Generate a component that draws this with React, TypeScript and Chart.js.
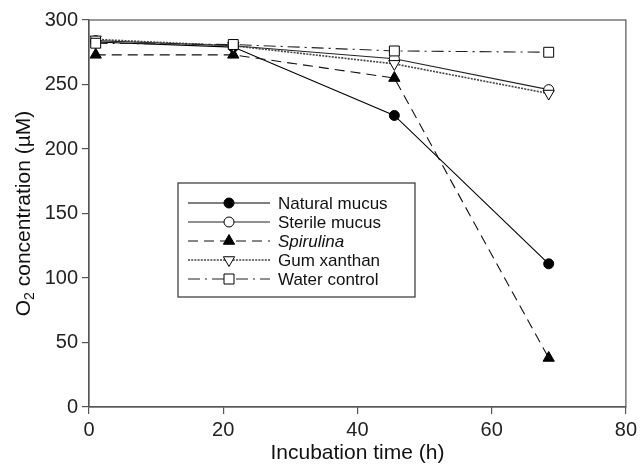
import React, { useEffect, useRef } from "react";
import { Chart, registerables } from "chart.js";

Chart.register(...registerables);

const timeHours = [1, 21.5, 45.5, 68.5];
const naturalMucus = [283, 279, 226, 111];
const sterileMucus = [284, 280, 270, 246];
const spirulina = [273, 273, 255, 38];
const gumXanthan = [285, 280, 266, 243];
const waterControl = [282, 281, 276, 275];

const seriesNames = ["Natural mucus", "Sterile mucus", "Spirulina", "Gum xanthan", "Water control"];
const xTicks = [0, 20, 40, 60, 80];
const yTicks = [0, 50, 100, 150, 200, 250, 300];

const FONT = "'Liberation Sans', Arial, Helvetica, sans-serif";

function toPoints(ys: number[]) {
  return ys.map((y, i) => ({ x: timeHours[i], y }));
}

type Marker = "circleFill" | "circleOpen" | "triFill" | "triDownOpen" | "squareOpen";

function drawMarker(ctx: CanvasRenderingContext2D, m: Marker, x: number, y: number) {
  ctx.save();
  ctx.setLineDash([]);
  ctx.lineWidth = 1;
  ctx.strokeStyle = "#000";
  ctx.beginPath();
  if (m === "circleFill" || m === "circleOpen") {
    ctx.arc(x, y, 5, 0, Math.PI * 2);
    ctx.fillStyle = m === "circleFill" ? "#000" : "#fff";
  } else if (m === "triFill" || m === "triDownOpen") {
    const r = 6.5;
    const s = m === "triFill" ? 1 : -1;
    ctx.moveTo(x, y - s * r);
    ctx.lineTo(x + r * 0.866, y + s * r * 0.5);
    ctx.lineTo(x - r * 0.866, y + s * r * 0.5);
    ctx.closePath();
    ctx.fillStyle = m === "triFill" ? "#000" : "#fff";
  } else {
    ctx.rect(x - 5, y - 5, 10, 10);
    ctx.fillStyle = "#fff";
  }
  ctx.fill();
  ctx.stroke();
  ctx.restore();
}

const markers: Marker[] = ["circleFill", "circleOpen", "triFill", "triDownOpen", "squareOpen"];
const dashes: number[][] = [[], [], [10, 6], [2, 1.2], [12, 5, 2, 5]];
const lineColors = ["#000", "#222", "#111", "#444", "#222"];
const lineWidths = [1.1, 1.1, 1.1, 1.6, 1.1];

const framePlugin = {
  id: "frameAndExtras",
  afterDatasetsDraw(chart: any) {
    const ctx: CanvasRenderingContext2D = chart.ctx;
    const a = chart.chartArea;
    ctx.save();
    ctx.strokeStyle = "#555";
    ctx.lineWidth = 1.2;
    ctx.strokeRect(a.left, a.top, a.right - a.left, a.bottom - a.top);

    // legend
    const lx = 178, ly = 183, lw = 237, lh = 114;
    ctx.strokeStyle = "#333";
    ctx.lineWidth = 1.2;
    ctx.fillStyle = "#fff";
    ctx.fillRect(lx, ly, lw, lh);
    ctx.strokeRect(lx, ly, lw, lh);
    const rows = [203, 222, 241, 260, 279];
    seriesNames.forEach((name, i) => {
      const y = rows[i];
      ctx.save();
      ctx.strokeStyle = lineColors[i];
      ctx.lineWidth = lineWidths[i];
      ctx.setLineDash(dashes[i]);
      ctx.beginPath();
      ctx.moveTo(188, y);
      ctx.lineTo(270, y);
      ctx.stroke();
      ctx.restore();
      drawMarker(ctx, markers[i], 229, y);
      ctx.fillStyle = "#111";
      ctx.font = (i === 2 ? "italic " : "") + "17px " + FONT;
      ctx.textBaseline = "middle";
      ctx.textAlign = "left";
      ctx.fillText(name, 278, y + 1);
    });

    // y axis title with subscript
    ctx.save();
    const cx = 24, cy = (a.top + a.bottom) / 2;
    ctx.translate(cx, cy);
    ctx.rotate(-Math.PI / 2);
    ctx.fillStyle = "#111";
    ctx.textBaseline = "middle";
    ctx.textAlign = "left";
    const big = "21px " + FONT;
    const small = "14px " + FONT;
    ctx.font = big;
    const wO = ctx.measureText("O").width;
    const rest = " concentration (µM)";
    const wRest = ctx.measureText(rest).width;
    ctx.font = small;
    const w2 = ctx.measureText("2").width;
    const total = wO + w2 + wRest;
    let x0 = -total / 2;
    ctx.font = big;
    ctx.fillText("O", x0, 0);
    ctx.font = small;
    ctx.fillText("2", x0 + wO, 6);
    ctx.font = big;
    ctx.fillText(rest, x0 + wO + w2, 0);
    ctx.restore();
    ctx.restore();
  },
};

export default function App() {
  const ref = useRef<HTMLCanvasElement | null>(null);
  useEffect(() => {
    if (!ref.current) return;
    const all = [naturalMucus, sterileMucus, spirulina, gumXanthan, waterControl];
    const styleMap: any[] = [
      { pointStyle: "circle", pointRadius: 5, pointBackgroundColor: "#000", rotation: 0 },
      { pointStyle: "circle", pointRadius: 5, pointBackgroundColor: "#fff", rotation: 0 },
      { pointStyle: "triangle", pointRadius: 6.5, pointBackgroundColor: "#000", rotation: 0 },
      { pointStyle: "triangle", pointRadius: 6.5, pointBackgroundColor: "#fff", rotation: 180 },
      { pointStyle: "rect", pointRadius: 7, pointBackgroundColor: "#fff", rotation: 0 },
    ];
    const datasets = all.map((vals, i) => ({
      label: seriesNames[i],
      data: toPoints(vals),
      showLine: true,
      borderColor: lineColors[i],
      borderWidth: lineWidths[i],
      borderDash: dashes[i],
      pointStyle: styleMap[i].pointStyle,
      pointRadius: styleMap[i].pointRadius,
      pointRotation: styleMap[i].rotation,
      pointBackgroundColor: styleMap[i].pointBackgroundColor,
      pointBorderColor: "#000",
      pointBorderWidth: 1,
      order: 4 - i,
    }));
    const chart = new Chart(ref.current, {
      type: "scatter",
      data: { datasets },
      options: {
        animation: false,
        responsive: false,
        maintainAspectRatio: false,
        layout: { padding: { top: 20, right: 12, left: 0, bottom: 0 } },
        plugins: { legend: { display: false }, tooltip: { enabled: false } },
        scales: {
          x: {
            type: "linear",
            min: xTicks[0],
            max: xTicks[xTicks.length - 1],
            afterBuildTicks: (s: any) => { s.ticks = xTicks.map((v) => ({ value: v })); },
            afterFit: (s: any) => { s.height = 64; },
            ticks: { font: { size: 20, family: FONT }, color: "#222", padding: 4, maxRotation: 0 },
            grid: { display: true, drawOnChartArea: false, drawTicks: true, tickLength: 7, color: "#555", lineWidth: 1.2 },
            border: { display: true, color: "#555", width: 1.2 },
            title: { display: true, text: "Incubation time (h)", font: { size: 21, family: FONT }, color: "#111", padding: { top: 0, bottom: 5 } },
          },
          y: {
            type: "linear",
            min: yTicks[0],
            max: yTicks[yTicks.length - 1],
            afterBuildTicks: (s: any) => { s.ticks = yTicks.map((v) => ({ value: v })); },
            afterFit: (s: any) => { s.width = 89; },
            ticks: { font: { size: 20, family: FONT }, color: "#222", padding: 4 },
            grid: { display: true, drawOnChartArea: false, drawTicks: true, tickLength: 7, color: "#555", lineWidth: 1.2 },
            border: { display: true, color: "#555", width: 1.2 },
            title: { display: false },
          },
        },
      },
      plugins: [framePlugin],
    });
    return () => chart.destroy();
  }, []);
  return (
    <div style={{ position: "fixed", left: 0, top: 0, width: 641, height: 471, background: "#fff" }}>
      <canvas ref={ref} width={641} height={471} style={{ width: 641, height: 471, display: "block" }} />
    </div>
  );
}
